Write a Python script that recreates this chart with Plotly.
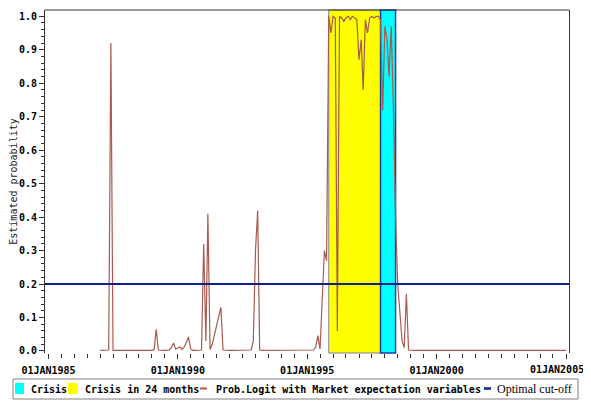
import pandas as pd
import plotly.graph_objects as go

# monthly estimated probability, Jan 1987 .. Jan 2005 (one row per year)
prob_logit = [
    0.002, 0.002, 0.002, 0.002, 0.003, 0.920, 0.002, 0.002, 0.002, 0.002, 0.002, 0.002,  # 1987
    0.002, 0.002, 0.002, 0.002, 0.002, 0.002, 0.002, 0.002, 0.002, 0.002, 0.002, 0.002,  # 1988
    0.002, 0.005, 0.065, 0.003, 0.002, 0.002, 0.002, 0.002, 0.003, 0.010, 0.024, 0.006,  # 1989
    0.008, 0.012, 0.004, 0.012, 0.025, 0.042, 0.006, 0.002, 0.002, 0.002, 0.002, 0.003,  # 1990
    0.320, 0.030, 0.410, 0.004, 0.020, 0.050, 0.080, 0.110, 0.130, 0.003, 0.002, 0.002,  # 1991
    0.002, 0.002, 0.002, 0.002, 0.002, 0.002, 0.002, 0.002, 0.002, 0.002, 0.003, 0.030,  # 1992
    0.300, 0.420, 0.003, 0.002, 0.002, 0.002, 0.002, 0.002, 0.002, 0.002, 0.002, 0.002,  # 1993
    0.002, 0.002, 0.002, 0.002, 0.002, 0.002, 0.002, 0.002, 0.002, 0.002, 0.002, 0.002,  # 1994
    0.002, 0.002, 0.002, 0.003, 0.012, 0.046, 0.006, 0.150, 0.300, 0.270, 1.000, 0.950,  # 1995
    1.000, 0.995, 0.060, 1.000, 0.995, 0.985, 0.995, 1.000, 0.990, 1.000, 0.995, 0.990,  # 1996
    0.870, 0.930, 0.780, 0.990, 0.950, 0.995, 1.000, 0.995, 1.000, 1.000, 0.990, 0.720,  # 1997
    0.970, 0.930, 0.820, 0.970, 0.730, 0.400, 0.200, 0.100, 0.030, 0.010, 0.170, 0.003,  # 1998
    0.002, 0.002, 0.002, 0.002, 0.002, 0.002, 0.002, 0.002, 0.002, 0.002, 0.002, 0.002,  # 1999
    0.002, 0.002, 0.002, 0.002, 0.002, 0.002, 0.002, 0.002, 0.002, 0.002, 0.002, 0.002,  # 2000
    0.002, 0.002, 0.002, 0.002, 0.002, 0.002, 0.002, 0.002, 0.002, 0.002, 0.002, 0.002,  # 2001
    0.002, 0.002, 0.002, 0.002, 0.002, 0.002, 0.002, 0.002, 0.002, 0.002, 0.002, 0.002,  # 2002
    0.002, 0.002, 0.002, 0.002, 0.002, 0.002, 0.002, 0.002, 0.002, 0.002, 0.002, 0.002,  # 2003
    0.002, 0.002, 0.002, 0.002, 0.002, 0.002, 0.002, 0.002, 0.002, 0.002, 0.002, 0.002,  # 2004
    0.002,                                                                                # 2005
]
months = pd.date_range("1987-01-01", periods=len(prob_logit), freq="MS")

cutoff = 0.2
crisis_24m = ("1995-11-01", "1997-11-01")
crisis = ("1997-11-01", "1998-06-01")

x_tick_dates = ["1985-01-01", "1990-01-01", "1995-01-01", "2000-01-01", "2005-01-01"]
x_tick_labels = ["01JAN1985", "01JAN1990", "01JAN1995", "01JAN2000", "01JAN2005"]
y_ticks = [0.0, 0.1, 0.2, 0.3, 0.4, 0.5, 0.6, 0.7, 0.8, 0.9, 1.0]

legend_items = ["Crisis", "Crisis in 24 months",
                "Prob.Logit with Market expectation variables", "Optimal cut-off"]

CYAN = "#00FFFF"
YELLOW = "#FFFF00"
BROWN = "#A85A50"
NAVY = "#10208F"
FRAME = "#333333"
MONO = "DejaVu Sans Mono"

# window size and plot area in window pixels; the page body adds an 8px offset
WIN_W, WIN_H = 591, 403
OFF = 8
L, R, T, B = 45, 22, 10, 50
PW, PH = WIN_W - L - R, WIN_H - T - B


def px(x):
    return (x - L) / PW


def py(y):
    return (WIN_H - B - y) / PH


tick_font = dict(family=MONO, size=10, color="black", weight="bold")

fig = go.Figure()

fig.add_vrect(x0=crisis_24m[0], x1=crisis_24m[1], fillcolor=YELLOW, opacity=1,
              layer="below", line=dict(color="#7f7f9f", width=1))
fig.add_vrect(x0=crisis[0], x1=crisis[1], fillcolor=CYAN, opacity=1,
              layer="below", line=dict(color="#1c3ca0", width=1.5))

fig.add_trace(go.Scatter(
    x=months, y=prob_logit, mode="lines",
    line=dict(color=BROWN, width=1.2),
    name=legend_items[2], showlegend=False,
))

fig.add_hline(y=cutoff, line=dict(color=NAVY, width=2))

# top frame line (no bottom line in the original)
fig.add_shape(type="line", xref="paper", yref="paper", x0=0, x1=1, y0=1, y1=1,
              line=dict(color=FRAME, width=1))

# last x label is pulled left so it stays inside the page, as in the original
fig.add_annotation(text=x_tick_labels[-1], xref="x", x=x_tick_dates[-1], xshift=-9,
                   yref="paper", y=py(370), yanchor="middle", showarrow=False,
                   font=tick_font)

# legend box drawn by hand
fig.add_shape(type="rect", xref="paper", yref="paper",
              x0=px(13), x1=px(578), y0=py(379), y1=py(399),
              line=dict(color="#808080", width=1), fillcolor="white")
fig.add_shape(type="rect", xref="paper", yref="paper",
              x0=px(15), x1=px(24), y0=py(383), y1=py(394),
              line=dict(width=0), fillcolor=CYAN)
fig.add_shape(type="rect", xref="paper", yref="paper",
              x0=px(68), x1=px(78), y0=py(383), y1=py(394),
              line=dict(width=0), fillcolor=YELLOW)
fig.add_shape(type="line", xref="paper", yref="paper",
              x0=px(200), x1=px(207), y0=py(388.5), y1=py(388.5),
              line=dict(color=BROWN, width=2))
fig.add_shape(type="line", xref="paper", yref="paper",
              x0=px(484), x1=px(491), y0=py(388.5), y1=py(388.5),
              line=dict(color=NAVY, width=2.5))

for text, x0, font in [
    (legend_items[0], 29, tick_font),
    (legend_items[1], 83, tick_font),
    (legend_items[2], 214, tick_font),
    (legend_items[3], 495, dict(family="Liberation Serif", size=12, color="black")),
]:
    fig.add_annotation(text=text, xref="paper", yref="paper", x=px(x0), y=py(389),
                       xanchor="left", yanchor="middle", showarrow=False, font=font)

fig.update_xaxes(
    type="date",
    range=["1984-11-13", "2005-02-12"],
    tickmode="array", tickvals=x_tick_dates, ticktext=x_tick_labels[:-1] + [""],
    ticks="outside", ticklen=5, tickcolor=FRAME,
    minor=dict(tickmode="linear", tick0="1985-01-01", dtick="M6",
               ticks="outside", ticklen=4, tickcolor=FRAME),
    showgrid=False, showline=False, zeroline=False,
    tickfont=tick_font, ticklabelstandoff=3,
    automargin=False,
)
fig.update_yaxes(
    range=[-0.006, 1.0188],
    tickmode="array", tickvals=y_ticks, tickformat=".1f",
    ticks="outside", ticklen=5, tickcolor=FRAME,
    minor=dict(tickmode="linear", tick0=0, dtick=0.02,
               ticks="outside", ticklen=3, tickcolor=FRAME),
    showgrid=False, zeroline=False,
    showline=True, mirror=True, linecolor=FRAME, linewidth=1,
    tickfont=tick_font,
    title=dict(text="Estimated probability", standoff=4,
               font=dict(family=MONO, size=10, color="#222222")),
    automargin=False,
)
fig.update_layout(
    width=WIN_W - OFF, height=WIN_H - OFF,
    margin=dict(l=L - OFF, r=R, t=T - OFF, b=B),
    plot_bgcolor="white", paper_bgcolor="white",
    showlegend=False,
)

fig.write_html("out.html")
